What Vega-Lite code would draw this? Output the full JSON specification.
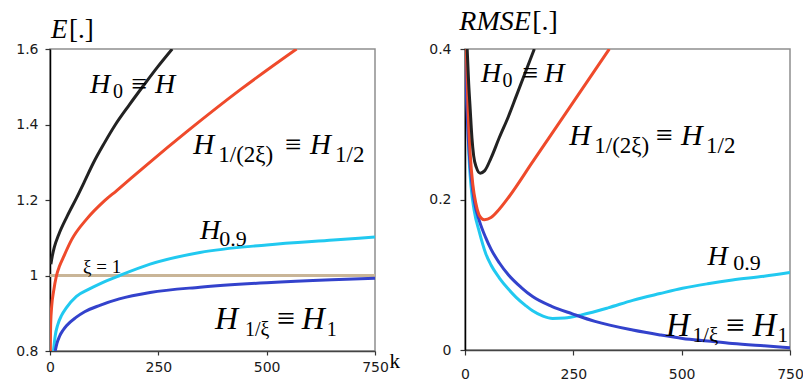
{
  "$schema": "https://vega.github.io/schema/vega-lite/v6.json",
  "background": "white",
  "padding": {"left": 14, "top": 7, "right": 0, "bottom": 0},
  "spacing": 26,
  "config": {
    "view": {"stroke": "#8f8f8f", "strokeWidth": 1.5},
    "axis": {"labelFont": "DejaVu Sans", "labelFontSize": 14, "labelColor": "#1a1a1a", "grid": false, "tickColor": "#333333", "domainWidth": 1.5, "tickWidth": 1.2, "labelFlush": false}
  },
  "resolve": {"scale": {"size": "independent", "color": "independent"}},
  "datasets": {
    "curves": [
      {"p": "E", "s": "xi", "k": 0, "v": 1},
      {"p": "E", "s": "xi", "k": 750, "v": 1},
      {"p": "E", "s": "H09", "k": 8, "v": 0.8},
      {"p": "E", "s": "H09", "k": 12, "v": 0.84},
      {"p": "E", "s": "H09", "k": 18, "v": 0.87},
      {"p": "E", "s": "H09", "k": 27, "v": 0.895},
      {"p": "E", "s": "H09", "k": 38, "v": 0.915},
      {"p": "E", "s": "H09", "k": 61, "v": 0.945},
      {"p": "E", "s": "H09", "k": 90, "v": 0.964},
      {"p": "E", "s": "H09", "k": 115, "v": 0.978},
      {"p": "E", "s": "H09", "k": 161, "v": 1.0},
      {"p": "E", "s": "H09", "k": 231, "v": 1.03},
      {"p": "E", "s": "H09", "k": 346, "v": 1.061},
      {"p": "E", "s": "H09", "k": 500, "v": 1.081},
      {"p": "E", "s": "H09", "k": 654, "v": 1.094},
      {"p": "E", "s": "H09", "k": 750, "v": 1.102},
      {"p": "E", "s": "H1", "k": 12, "v": 0.8},
      {"p": "E", "s": "H1", "k": 16, "v": 0.82},
      {"p": "E", "s": "H1", "k": 22, "v": 0.839},
      {"p": "E", "s": "H1", "k": 30, "v": 0.855},
      {"p": "E", "s": "H1", "k": 38, "v": 0.867},
      {"p": "E", "s": "H1", "k": 60, "v": 0.889},
      {"p": "E", "s": "H1", "k": 80, "v": 0.904},
      {"p": "E", "s": "H1", "k": 115, "v": 0.921},
      {"p": "E", "s": "H1", "k": 160, "v": 0.938},
      {"p": "E", "s": "H1", "k": 231, "v": 0.955},
      {"p": "E", "s": "H1", "k": 346, "v": 0.969},
      {"p": "E", "s": "H1", "k": 500, "v": 0.981},
      {"p": "E", "s": "H1", "k": 650, "v": 0.989},
      {"p": "E", "s": "H1", "k": 750, "v": 0.993},
      {"p": "E", "s": "H12", "k": 0.5, "v": 0.8},
      {"p": "E", "s": "H12", "k": 1.5, "v": 0.87},
      {"p": "E", "s": "H12", "k": 4, "v": 0.92},
      {"p": "E", "s": "H12", "k": 8, "v": 0.956},
      {"p": "E", "s": "H12", "k": 15, "v": 1.0},
      {"p": "E", "s": "H12", "k": 22, "v": 1.025},
      {"p": "E", "s": "H12", "k": 30, "v": 1.046},
      {"p": "E", "s": "H12", "k": 50, "v": 1.095},
      {"p": "E", "s": "H12", "k": 85, "v": 1.15},
      {"p": "E", "s": "H12", "k": 123, "v": 1.195},
      {"p": "E", "s": "H12", "k": 154, "v": 1.225},
      {"p": "E", "s": "H12", "k": 220, "v": 1.29},
      {"p": "E", "s": "H12", "k": 320, "v": 1.385},
      {"p": "E", "s": "H12", "k": 440, "v": 1.493},
      {"p": "E", "s": "H12", "k": 569, "v": 1.6},
      {"p": "E", "s": "H0", "k": 2, "v": 1.03},
      {"p": "E", "s": "H0", "k": 5, "v": 1.05},
      {"p": "E", "s": "H0", "k": 10, "v": 1.075},
      {"p": "E", "s": "H0", "k": 20, "v": 1.108},
      {"p": "E", "s": "H0", "k": 40, "v": 1.158},
      {"p": "E", "s": "H0", "k": 61, "v": 1.205},
      {"p": "E", "s": "H0", "k": 80, "v": 1.25},
      {"p": "E", "s": "H0", "k": 100, "v": 1.298},
      {"p": "E", "s": "H0", "k": 125, "v": 1.35},
      {"p": "E", "s": "H0", "k": 150, "v": 1.398},
      {"p": "E", "s": "H0", "k": 183, "v": 1.452},
      {"p": "E", "s": "H0", "k": 215, "v": 1.502},
      {"p": "E", "s": "H0", "k": 248, "v": 1.552},
      {"p": "E", "s": "H0", "k": 282, "v": 1.6},
      {"p": "R", "s": "H09", "k": 2, "v": 0.4},
      {"p": "R", "s": "H09", "k": 5, "v": 0.33},
      {"p": "R", "s": "H09", "k": 9, "v": 0.26},
      {"p": "R", "s": "H09", "k": 14, "v": 0.217},
      {"p": "R", "s": "H09", "k": 21, "v": 0.186},
      {"p": "R", "s": "H09", "k": 33, "v": 0.157},
      {"p": "R", "s": "H09", "k": 48, "v": 0.128},
      {"p": "R", "s": "H09", "k": 60, "v": 0.113},
      {"p": "R", "s": "H09", "k": 79, "v": 0.096},
      {"p": "R", "s": "H09", "k": 100, "v": 0.081},
      {"p": "R", "s": "H09", "k": 118, "v": 0.07},
      {"p": "R", "s": "H09", "k": 140, "v": 0.059},
      {"p": "R", "s": "H09", "k": 156, "v": 0.052},
      {"p": "R", "s": "H09", "k": 180, "v": 0.045},
      {"p": "R", "s": "H09", "k": 202, "v": 0.042},
      {"p": "R", "s": "H09", "k": 230, "v": 0.0425},
      {"p": "R", "s": "H09", "k": 271, "v": 0.047},
      {"p": "R", "s": "H09", "k": 330, "v": 0.056},
      {"p": "R", "s": "H09", "k": 387, "v": 0.066},
      {"p": "R", "s": "H09", "k": 450, "v": 0.075},
      {"p": "R", "s": "H09", "k": 502, "v": 0.082},
      {"p": "R", "s": "H09", "k": 560, "v": 0.088},
      {"p": "R", "s": "H09", "k": 617, "v": 0.093},
      {"p": "R", "s": "H09", "k": 690, "v": 0.098},
      {"p": "R", "s": "H09", "k": 750, "v": 0.103},
      {"p": "R", "s": "H1", "k": 1, "v": 0.4},
      {"p": "R", "s": "H1", "k": 3, "v": 0.35},
      {"p": "R", "s": "H1", "k": 6, "v": 0.3},
      {"p": "R", "s": "H1", "k": 10, "v": 0.26},
      {"p": "R", "s": "H1", "k": 15, "v": 0.226},
      {"p": "R", "s": "H1", "k": 22, "v": 0.196},
      {"p": "R", "s": "H1", "k": 33, "v": 0.172},
      {"p": "R", "s": "H1", "k": 48, "v": 0.149},
      {"p": "R", "s": "H1", "k": 60, "v": 0.134},
      {"p": "R", "s": "H1", "k": 79, "v": 0.116},
      {"p": "R", "s": "H1", "k": 100, "v": 0.1},
      {"p": "R", "s": "H1", "k": 130, "v": 0.083},
      {"p": "R", "s": "H1", "k": 156, "v": 0.071},
      {"p": "R", "s": "H1", "k": 200, "v": 0.058},
      {"p": "R", "s": "H1", "k": 248, "v": 0.048},
      {"p": "R", "s": "H1", "k": 300, "v": 0.038},
      {"p": "R", "s": "H1", "k": 387, "v": 0.0265},
      {"p": "R", "s": "H1", "k": 450, "v": 0.02},
      {"p": "R", "s": "H1", "k": 502, "v": 0.0154},
      {"p": "R", "s": "H1", "k": 560, "v": 0.012},
      {"p": "R", "s": "H1", "k": 617, "v": 0.0087},
      {"p": "R", "s": "H1", "k": 690, "v": 0.0055},
      {"p": "R", "s": "H1", "k": 750, "v": 0.003},
      {"p": "R", "s": "H12", "k": 3, "v": 0.4},
      {"p": "R", "s": "H12", "k": 7, "v": 0.32},
      {"p": "R", "s": "H12", "k": 12, "v": 0.26},
      {"p": "R", "s": "H12", "k": 18, "v": 0.22},
      {"p": "R", "s": "H12", "k": 25, "v": 0.195},
      {"p": "R", "s": "H12", "k": 32, "v": 0.18},
      {"p": "R", "s": "H12", "k": 38, "v": 0.175},
      {"p": "R", "s": "H12", "k": 45, "v": 0.173},
      {"p": "R", "s": "H12", "k": 60, "v": 0.176},
      {"p": "R", "s": "H12", "k": 79, "v": 0.187},
      {"p": "R", "s": "H12", "k": 102, "v": 0.204},
      {"p": "R", "s": "H12", "k": 156, "v": 0.25},
      {"p": "R", "s": "H12", "k": 233, "v": 0.315},
      {"p": "R", "s": "H12", "k": 333, "v": 0.4},
      {"p": "R", "s": "H0", "k": 5, "v": 0.4},
      {"p": "R", "s": "H0", "k": 8, "v": 0.36},
      {"p": "R", "s": "H0", "k": 12, "v": 0.32},
      {"p": "R", "s": "H0", "k": 16, "v": 0.282},
      {"p": "R", "s": "H0", "k": 20, "v": 0.258},
      {"p": "R", "s": "H0", "k": 26, "v": 0.243},
      {"p": "R", "s": "H0", "k": 35, "v": 0.235},
      {"p": "R", "s": "H0", "k": 45, "v": 0.238},
      {"p": "R", "s": "H0", "k": 60, "v": 0.255},
      {"p": "R", "s": "H0", "k": 79, "v": 0.282},
      {"p": "R", "s": "H0", "k": 100, "v": 0.31},
      {"p": "R", "s": "H0", "k": 118, "v": 0.337},
      {"p": "R", "s": "H0", "k": 140, "v": 0.37},
      {"p": "R", "s": "H0", "k": 160, "v": 0.4}
    ],
    "notes": [
      {"p": "E", "g": "A", "r": "it", "t": "H", "k": 92.3, "v": 1.4842},
      {"p": "E", "g": "A", "r": "sub", "t": "0", "k": 145.4, "v": 1.4702},
      {"p": "E", "g": "A", "r": "up", "t": "≡", "k": 188.1, "v": 1.4842},
      {"p": "E", "g": "A", "r": "it", "t": "H", "k": 242.3, "v": 1.4842},
      {"p": "E", "g": "B", "r": "it", "t": "H", "k": 330.7, "v": 1.3227},
      {"p": "E", "g": "B", "r": "sub", "t": "1/(2ξ)", "k": 388.4, "v": 1.3007},
      {"p": "E", "g": "B", "r": "up", "t": "≡", "k": 542.3, "v": 1.3227},
      {"p": "E", "g": "B", "r": "it", "t": "H", "k": 600, "v": 1.3227},
      {"p": "E", "g": "B", "r": "sub", "t": "1/2", "k": 657.7, "v": 1.3007},
      {"p": "E", "g": "C", "r": "it", "t": "H", "k": 346.2, "v": 1.0975},
      {"p": "E", "g": "C", "r": "sub", "t": "0.9", "k": 390.7, "v": 1.0773},
      {"p": "E", "g": "D", "r": "it", "t": "H", "k": 380.8, "v": 0.8591},
      {"p": "E", "g": "D", "r": "sub", "t": "1/ξ", "k": 450, "v": 0.8389},
      {"p": "E", "g": "D", "r": "up", "t": "≡", "k": 523.2, "v": 0.8591},
      {"p": "E", "g": "D", "r": "it", "t": "H", "k": 580.8, "v": 0.8591},
      {"p": "E", "g": "D", "r": "sub", "t": "1", "k": 638.5, "v": 0.8389},
      {"p": "E", "g": "X", "r": "up", "t": "ξ = 1", "k": 76.2, "v": 1.0066},
      {"p": "E", "g": "T", "r": "it", "t": "E", "k": 2.3, "v": 1.6291},
      {"p": "E", "g": "T", "r": "up", "t": "[.]", "k": 43.8, "v": 1.6291},
      {"p": "R", "g": "A", "r": "it", "t": "H", "k": 36.9, "v": 0.3556},
      {"p": "R", "g": "A", "r": "sub", "t": "0", "k": 86.8, "v": 0.3499},
      {"p": "R", "g": "A", "r": "up", "t": "≡", "k": 132.9, "v": 0.3556},
      {"p": "R", "g": "A", "r": "it", "t": "H", "k": 183, "v": 0.3556},
      {"p": "R", "g": "B", "r": "it", "t": "H", "k": 240.7, "v": 0.2724},
      {"p": "R", "g": "B", "r": "sub", "t": "1/(2ξ)", "k": 298.4, "v": 0.2613},
      {"p": "R", "g": "B", "r": "up", "t": "≡", "k": 440.8, "v": 0.2724},
      {"p": "R", "g": "B", "r": "it", "t": "H", "k": 498.5, "v": 0.2724},
      {"p": "R", "g": "B", "r": "sub", "t": "1/2", "k": 556.2, "v": 0.2613},
      {"p": "R", "g": "C", "r": "it", "t": "H", "k": 559.8, "v": 0.113},
      {"p": "R", "g": "C", "r": "sub", "t": "0.9", "k": 619.2, "v": 0.1063},
      {"p": "R", "g": "D", "r": "it", "t": "H", "k": 463.8, "v": 0.0186},
      {"p": "R", "g": "D", "r": "sub", "t": "1/ξ", "k": 525.2, "v": 0.011},
      {"p": "R", "g": "D", "r": "up", "t": "≡", "k": 602.3, "v": 0.0186},
      {"p": "R", "g": "D", "r": "it", "t": "H", "k": 663.7, "v": 0.0186},
      {"p": "R", "g": "D", "r": "sub", "t": "1", "k": 721.4, "v": 0.011},
      {"p": "R", "g": "U", "r": "it", "t": "RMSE", "k": -13.2, "v": 0.4252},
      {"p": "R", "g": "U", "r": "up", "t": "[.]", "k": 155.3, "v": 0.4252}
    ]
  },
  "hconcat": [
    {
      "width": 325,
      "height": 302,
      "encoding": {
        "x": {"field": "k", "type": "quantitative", "scale": {"domain": [0, 750], "nice": false},
          "axis": {"values": [0, 250, 500, 750], "format": "d", "tickSize": 4, "labelPadding": 5, "domainColor": "#444444",
            "title": "k", "titleFont": "Liberation Serif", "titleFontSize": 21, "titleFontWeight": "normal", "titleColor": "#000000",
            "titleX": 339, "titleY": 16, "titleAlign": "left", "titleBaseline": "alphabetic"}},
        "y": {"field": "v", "type": "quantitative", "scale": {"domain": [0.8, 1.6], "nice": false, "zero": false},
          "axis": {"values": [0.8, 1, 1.2, 1.4, 1.6], "format": "~g", "tickSize": 5, "labelPadding": 7, "domainColor": "#000000", "title": null}}
      },
      "resolve": {"scale": {"size": "independent"}},
      "layer": [
        {
          "data": {"name": "curves"},
          "transform": [{"filter": "datum.p === 'E'"}],
          "mark": {"type": "line", "strokeWidth": 3, "clip": true, "interpolate": "monotone"},
          "encoding": {"color": {"field": "s", "type": "nominal", "legend": null,
            "scale": {"domain": ["xi", "H09", "H1", "H12", "H0"], "range": ["#c9b597", "#21c9f0", "#3342cc", "#ef4a2b", "#222222"]}}}
        },
        {
          "data": {"name": "notes"},
          "transform": [{"filter": "datum.p === 'E' && datum.r === 'it'"}],
          "mark": {"type": "text", "font": "Liberation Serif", "fontStyle": "italic", "align": "left", "baseline": "alphabetic", "color": "#000000"},
          "encoding": {"text": {"field": "t"}, "size": {"field": "g", "type": "nominal", "legend": null,
            "scale": {"type": "ordinal", "domain": ["A", "B", "C", "D", "T"], "range": [28, 29, 28, 32, 27]}}}
        },
        {
          "data": {"name": "notes"},
          "transform": [{"filter": "datum.p === 'E' && datum.r === 'up'"}],
          "mark": {"type": "text", "font": "Liberation Serif", "align": "left", "baseline": "alphabetic", "color": "#000000"},
          "encoding": {"text": {"field": "t"}, "size": {"field": "g", "type": "nominal", "legend": null,
            "scale": {"type": "ordinal", "domain": ["A", "B", "D", "T", "X"], "range": [28, 29, 32, 27, 19]}}}
        },
        {
          "data": {"name": "notes"},
          "transform": [{"filter": "datum.p === 'E' && datum.r === 'sub'"}],
          "mark": {"type": "text", "font": "Liberation Serif", "align": "left", "baseline": "alphabetic", "color": "#000000"},
          "encoding": {"text": {"field": "t"}, "size": {"field": "g", "type": "nominal", "legend": null,
            "scale": {"type": "ordinal", "domain": ["A", "B", "C", "D"], "range": [20, 23, 22, 20]}}}
        }
      ]
    },
    {
      "width": 325,
      "height": 301,
      "encoding": {
        "x": {"field": "k", "type": "quantitative", "scale": {"domain": [0, 750], "nice": false},
          "axis": {"values": [0, 250, 500, 750], "format": "d", "tickSize": 5, "labelPadding": 12, "domainColor": "#444444",
            "title": "k", "titleFont": "Liberation Serif", "titleFontSize": 21, "titleFontWeight": "normal", "titleColor": "#000000",
            "titleX": 338, "titleY": 21, "titleAlign": "left", "titleBaseline": "alphabetic"}},
        "y": {"field": "v", "type": "quantitative", "scale": {"domain": [0, 0.4], "nice": false},
          "axis": {"values": [0, 0.2, 0.4], "format": "~g", "tickSize": 5, "labelPadding": 9, "domainColor": "#000000", "title": null}}
      },
      "resolve": {"scale": {"size": "independent"}},
      "layer": [
        {
          "data": {"name": "curves"},
          "transform": [{"filter": "datum.p === 'R'"}],
          "mark": {"type": "line", "strokeWidth": 3, "clip": true, "interpolate": "monotone"},
          "encoding": {"color": {"field": "s", "type": "nominal", "legend": null,
            "scale": {"domain": ["xi", "H09", "H1", "H12", "H0"], "range": ["#c9b597", "#21c9f0", "#3342cc", "#ef4a2b", "#222222"]}}}
        },
        {
          "data": {"name": "notes"},
          "transform": [{"filter": "datum.p === 'R' && datum.r === 'it'"}],
          "mark": {"type": "text", "font": "Liberation Serif", "fontStyle": "italic", "align": "left", "baseline": "alphabetic", "color": "#000000"},
          "encoding": {"text": {"field": "t"}, "size": {"field": "g", "type": "nominal", "legend": null,
            "scale": {"type": "ordinal", "domain": ["A", "B", "C", "D", "U"], "range": [28, 30, 28, 33, 28]}}}
        },
        {
          "data": {"name": "notes"},
          "transform": [{"filter": "datum.p === 'R' && datum.r === 'up'"}],
          "mark": {"type": "text", "font": "Liberation Serif", "align": "left", "baseline": "alphabetic", "color": "#000000"},
          "encoding": {"text": {"field": "t"}, "size": {"field": "g", "type": "nominal", "legend": null,
            "scale": {"type": "ordinal", "domain": ["A", "B", "D", "U"], "range": [28, 30, 33, 28]}}}
        },
        {
          "data": {"name": "notes"},
          "transform": [{"filter": "datum.p === 'R' && datum.r === 'sub'"}],
          "mark": {"type": "text", "font": "Liberation Serif", "align": "left", "baseline": "alphabetic", "color": "#000000"},
          "encoding": {"text": {"field": "t"}, "size": {"field": "g", "type": "nominal", "legend": null,
            "scale": {"type": "ordinal", "domain": ["A", "B", "C", "D"], "range": [20, 23, 22, 21]}}}
        }
      ]
    }
  ]
}
